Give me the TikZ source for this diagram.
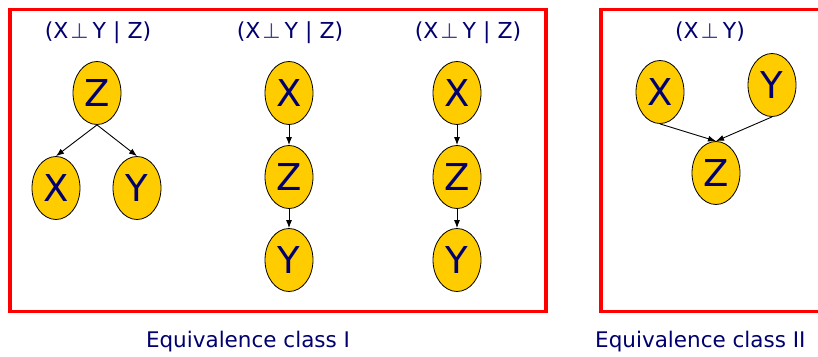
\documentclass[tikz,border=0pt]{standalone}
\usepackage{fontspec}
\setmainfont{DejaVu Sans}
\usetikzlibrary{shapes.geometric,arrows.meta}
\definecolor{navy}{RGB}{0,0,110}
\definecolor{gold}{RGB}{255,204,0}
\definecolor{boxred}{RGB}{255,0,0}
\newcommand{\indep}{\hspace{2pt}{\fontsize{21}{21}\selectfont\color{navy!75}⊥}\hspace{4pt}}
\begin{document}
\begin{tikzpicture}[x=1pt,y=-1pt,
 var/.style={ellipse,draw=black,line width=0.8pt,fill=gold,minimum width=48pt,minimum height=63pt,inner sep=0pt,text=navy,font=\fontsize{37}{37}\selectfont},
 lbl/.style={text=navy,font=\fontsize{22}{22}\selectfont,inner sep=0pt},
 captxt/.style={text=navy,font=\fontsize{21.5}{21.5}\selectfont,inner sep=0pt},
 frame/.style={draw=boxred,line width=3.5pt},
 edge/.style={-{Latex[length=8pt,width=6pt]},line width=0.9pt,draw=black}]
\useasboundingbox (0,0) rectangle (818,356);
\draw[frame] (10,9.5) rectangle (546,311.5);
\draw[frame] (601,9.5) rectangle (840,311.5);
% labels
\node[lbl] (l1) at (98,33) {(X\indep Y | Z)};
\node[lbl] (l2) at (290,33) {(X\indep Y | Z)};
\node[lbl] (l3) at (468,33) {(X\indep Y | Z)};
\node[lbl] (l4) at (710,32) {(X\indep Y)};
% panel 1
\node[var] (z1) at (97,93) {Z};
\node[var] (x1) at (56,188) {X};
\node[var] (y1) at (137,188) {Y};
\draw[edge] (z1.south) -- (x1.north);
\draw[edge] (z1.south) -- (y1.north);
% panel 2
\node[var] (x2) at (289,93) {X};
\node[var] (z2) at (289,177) {Z};
\node[var] (y2) at (289,260) {Y};
\draw[edge] (x2.south) -- (z2.north);
\draw[edge] (z2.south) -- (y2.north);
% panel 3
\node[var] (x3) at (457,93) {X};
\node[var] (z3) at (457,177) {Z};
\node[var] (y3) at (457,260) {Y};
\draw[edge] (x3.south) -- (z3.north);
\draw[edge] (z3.south) -- (y3.north);
% panel 4
\node[var] (x4) at (660,92) {X};
\node[var] (y4) at (772,85) {Y};
\node[var] (z4) at (716,173) {Z};
\draw[edge] (x4.south) -- (z4.north);
\draw[edge] (y4.south) -- (z4.north);
% captions
\node[captxt] (c1) at (248,342) {Equivalence class I};
\node[captxt,anchor=west] (c2) at (595,342) {Equivalence class II};
\end{tikzpicture}
\end{document}
